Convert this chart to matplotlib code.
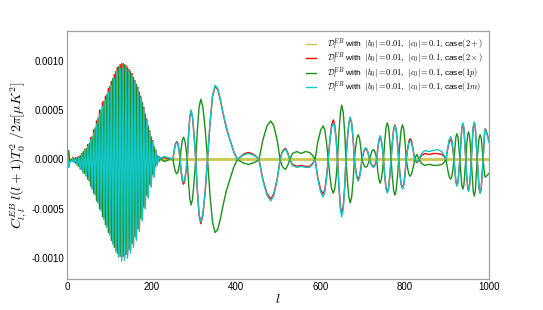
import numpy as np
import matplotlib
matplotlib.use("Agg")
import matplotlib.pyplot as plt

plt.rcParams['font.family'] = ['Liberation Sans', 'DejaVu Sans']
plt.rcParams['mathtext.fontset'] = 'cm'

# multipoles: first bump, dense acoustic part, slow tail (one row per lobe)
ell_head = [2, 4, 6, 9, 12]
ell_dense = np.arange(14, 214, 3.5)
ell_tail = [
    218, 222, 230, 238, 246,
    251, 254, 257, 260, 263, 265.5,
    268, 270.5, 273.5, 276, 279, 282,
    285, 288, 291, 294, 297.5, 301,
    305, 309, 313, 317, 322, 327.5,
    333, 339, 345, 351, 357, 363, 370, 378, 386, 395,
    404, 413, 421, 430, 438, 447,
    455, 464, 474, 483, 490, 498,
    505, 509, 514, 518, 523,
    528, 534, 545, 555, 565, 575, 582,
    588, 594, 601, 607, 611, 615,
    619, 623, 627, 631, 634.5, 638,
    641, 644.5, 648, 651, 654.5, 658,
    661, 664.5, 668, 671, 674.5, 678,
    681, 684, 687, 690, 693, 696,
    699, 702, 705, 708, 711, 714,
    717, 720, 723, 726, 729, 731.5,
    734, 736.5, 739.5, 742, 744.5, 747.5,
    750, 753, 756, 759, 762, 765,
    768, 771, 774, 777, 780, 783,
    786, 789, 792, 795, 798, 801,
    804, 807, 810, 813, 816.5, 820,
    824, 826.5, 829, 831.5,
    834, 840, 848, 858, 868, 878, 888, 894,
    898, 902, 905.5, 909, 912, 914.5,
    917, 919.5, 921.5, 924, 926.5, 928.5,
    931, 933.5, 935.5, 938, 940.5, 942.5,
    945, 947, 949.5, 951.5, 953.5, 956,
    958, 960.5, 962.5, 965, 967.5, 969.5,
    972, 974.5, 976.5, 979, 981.5, 983.5,
    986, 988, 989.5, 991, 993.5, 996, 1000]

# case(1m) - cyan
cyan_head = [0.00002, -0.00008, -0.00004, -0.00002, -0.00001]
cyan_dense = [
    0.00001, -0.00003, 0.00001, -0.00006, 0.00002, -0.0001, 0.00005, -0.00014, 0.00009, -0.00017,
    0.00013, -0.00022, 0.0002, -0.0003, 0.00027, -0.00036, 0.00036, -0.00044, 0.00046, -0.00052,
    0.00054, -0.00061, 0.0006, -0.00069, 0.00068, -0.00077, 0.00075, -0.00086, 0.00082, -0.00093,
    0.00089, -0.00099, 0.00092, -0.00103, 0.00093, -0.00102, 0.00092, -0.001, 0.00089, -0.00095,
    0.00085, -0.00089, 0.00079, -0.00082, 0.00072, -0.00073, 0.00063, -0.00062, 0.00052, -0.0005,
    0.0004, -0.00039, 0.00028, -0.00028, 0.00018, -0.00018, 0.0001, -0.00006]
cyan_tail = [
    0.00003, 0.00001, 0.00003, 0.00002, 0.00001,
    0.0, 0.00009, 0.00015, 0.00017, 0.00015, 0.00009,
    0.0, -0.000115, -0.0002, -0.00023, -0.0002, -0.000115,
    0.0, 0.00025, 0.000435, 0.0005, 0.000435, 0.00025,
    0.0, -0.000315, -0.000548, -0.00063, -0.000548, -0.000315,
    0.0, 0.00037, 0.00065, 0.00075, 0.00072, 0.00062, 0.00047, 0.00032, 0.0002, 0.00008,
    0.0, 0.00003, 0.00005, 0.00006, 0.00005, 0.00003,
    0.0, -0.00021, -0.000365, -0.00042, -0.000365, -0.00021,
    0.0, 0.00006, 0.00009, 0.0001, 0.00006,
    0.0, -0.00006, -0.00008, -0.00007, -0.00008, -0.00008, -0.00005,
    0.0, -0.00019, -0.00033, -0.00038, -0.00033, -0.00019,
    0.0, 0.000185, 0.000322, 0.00037, 0.000322, 0.000185,
    0.0, -0.00029, -0.000505, -0.00058, -0.000505, -0.00029,
    0.0, 0.000215, 0.000374, 0.00043, 0.000374, 0.000215,
    0.0, -0.00011, -0.00019, -0.00022, -0.00019, -0.00011,
    0.0, 0.00006, 0.000104, 0.00012, 0.000104, 0.00006,
    0.0, -0.00004, -0.00007, -0.00008, -0.00007, -0.00004,
    0.0, 0.00012, 0.000209, 0.00024, 0.000209, 0.00012,
    0.0, -0.00017, -0.000296, -0.00034, -0.000296, -0.00017,
    0.0, 0.00017, 0.000296, 0.00034, 0.000296, 0.00017,
    0.0, -0.00015, -0.000261, -0.0003, -0.000261, -0.00015,
    0.0, 0.000095, 0.000165, 0.00019, 0.000165, 0.000095,
    0.0, -0.00001, -0.00002, -0.00001,
    0.0, 0.00006, 0.00009, 0.00008, 0.00009, 0.0001, 0.00008, 0.00004,
    0.0, 0.000115, 0.0002, 0.00023, 0.0002, 0.000115,
    0.0, -0.000135, -0.000235, -0.00027, -0.000235, -0.000135,
    0.0, 0.000185, 0.000322, 0.00037, 0.000322, 0.000185,
    0.0, -0.00016, -0.000278, -0.00032, -0.000278, -0.00016,
    0.0, 0.00019, 0.00033, 0.00038, 0.00033, 0.00019,
    0.0, -0.00017, -0.000296, -0.00034, -0.000296, -0.00017,
    0.0, 0.00016, 0.00027, 0.00031, 0.00028, 0.00024, 0.00017]

# case(2x) - red
red_head = [0.00008, 0.00005, -0.00001, -0.00001, 0.0]
red_dense = [
    0.00002, -0.00003, 0.00002, -0.00005, 0.00003, -0.00009, 0.00006, -0.00013, 0.0001, -0.00016,
    0.00015, -0.00021, 0.00022, -0.00029, 0.0003, -0.00035, 0.00039, -0.00043, 0.0005, -0.0005,
    0.00058, -0.00059, 0.00064, -0.00067, 0.00072, -0.00075, 0.00079, -0.00084, 0.00086, -0.00091,
    0.00093, -0.00097, 0.00096, -0.001, 0.00097, -0.001, 0.00095, -0.00097, 0.00091, -0.00093,
    0.00087, -0.00087, 0.0008, -0.0008, 0.00073, -0.00071, 0.00064, -0.0006, 0.00053, -0.00049,
    0.00041, -0.00038, 0.00029, -0.00027, 0.00019, -0.00017, 0.0001, -0.00005]
red_tail = [
    0.00003, 0.00001, 0.00002, 0.00001, 0.00001,
    0.0, 0.00009, 0.00016, 0.00018, 0.00016, 0.00009,
    0.0, -0.000125, -0.000218, -0.00025, -0.000218, -0.000125,
    0.0, 0.000245, 0.000426, 0.00049, 0.000426, 0.000245,
    0.0, -0.000325, -0.000565, -0.00065, -0.000565, -0.000325,
    0.0, 0.00037, 0.00064, 0.00074, 0.00071, 0.00061, 0.00046, 0.00031, 0.0002, 0.00008,
    0.0, 0.000035, 0.00006, 0.00007, 0.00006, 0.000035,
    0.0, -0.0002, -0.000348, -0.0004, -0.000348, -0.0002,
    0.0, 0.00007, 0.0001, 0.00011, 0.00007,
    0.0, -0.00005, -0.00007, -0.00006, -0.00007, -0.00007, -0.00004,
    0.0, -0.000175, -0.000305, -0.00035, -0.000305, -0.000175,
    0.0, 0.0002, 0.000348, 0.0004, 0.000348, 0.0002,
    0.0, -0.000275, -0.000478, -0.00055, -0.000478, -0.000275,
    0.0, 0.00021, 0.000365, 0.00042, 0.000365, 0.00021,
    0.0, -0.0001, -0.000174, -0.0002, -0.000174, -0.0001,
    0.0, 0.000055, 0.000096, 0.00011, 0.000096, 0.000055,
    0.0, -0.000035, -0.00006, -0.00007, -0.00006, -0.000035,
    0.0, 0.000115, 0.0002, 0.00023, 0.0002, 0.000115,
    0.0, -0.000165, -0.000287, -0.00033, -0.000287, -0.000165,
    0.0, 0.000175, 0.000305, 0.00035, 0.000305, 0.000175,
    0.0, -0.000145, -0.000252, -0.00029, -0.000252, -0.000145,
    0.0, 0.000105, 0.000183, 0.00021, 0.000183, 0.000105,
    0.0, -0.00002, -0.00003, -0.00002,
    0.0, 0.00004, 0.00006, 0.00005, 0.00006, 0.00006, 0.00005, 0.00003,
    0.0, 0.0001, 0.000174, 0.0002, 0.000174, 0.0001,
    0.0, -0.00013, -0.000226, -0.00026, -0.000226, -0.00013,
    0.0, 0.00018, 0.000313, 0.00036, 0.000313, 0.00018,
    0.0, -0.00016, -0.000278, -0.00032, -0.000278, -0.00016,
    0.0, 0.000185, 0.000322, 0.00037, 0.000322, 0.000185,
    0.0, -0.00017, -0.000296, -0.00034, -0.000296, -0.00017,
    0.0, 0.00016, 0.00027, 0.00031, 0.00029, 0.00025, 0.00019]

# case(1p) - green
green_head = [0.00007, 0.00009, -0.00002, -0.00001, 0.0]
green_dense = [
    -0.00002, 0.00001, -0.00004, 0.00002, -0.00007, 0.00004, -0.0001, 0.00008, -0.00014, 0.00011,
    -0.0002, 0.00016, -0.00027, 0.00023, -0.00034, 0.00032, -0.00042, 0.00042, -0.0005, 0.0005,
    -0.00058, 0.00059, -0.00066, 0.00066, -0.00074, 0.00074, -0.00082, 0.00082, -0.00089, 0.00089,
    -0.00095, 0.00094, -0.00098, 0.00097, -0.00098, 0.00096, -0.00096, 0.00093, -0.00091, 0.00089,
    -0.00085, 0.00083, -0.00078, 0.00076, -0.0007, 0.00068, -0.0006, 0.00058, -0.00048, 0.00046,
    -0.00036, 0.00034, -0.00025, 0.00023, -0.00015, 0.00013, -0.00007, 0.00004]
green_tail = [
    -0.00002, 0.00001, -0.00002, -0.00001, 0.00001,
    0.0, -0.00007, -0.000125, -0.000145, -0.000125, -0.00007,
    0.0, 0.000112, 0.000196, 0.000225, 0.000196, 0.000112,
    0.0, -0.00023, -0.0004, -0.00046, -0.0004, -0.00023,
    0.0, 0.000305, 0.00053, 0.00061, 0.00053, 0.000305,
    0.0, -0.00037, -0.00064, -0.00074, -0.00071, -0.00061, -0.00046, -0.00031, -0.0002, -0.00008,
    0.0, -0.000025, -0.00004, -0.00005, -0.00004, -0.000025,
    0.0, 0.000195, 0.00034, 0.00039, 0.00034, 0.000195,
    0.0, -0.00006, -0.00009, -0.0001, -0.00006,
    0.0, 0.00006, 0.00008, 0.00006, 0.00008, 0.00007, 0.00004,
    0.0, 0.00017, 0.000296, 0.00034, 0.000296, 0.00017,
    0.0, -0.00017, -0.000296, -0.00034, -0.000296, -0.00017,
    0.0, 0.000275, 0.000478, 0.00055, 0.000478, 0.000275,
    0.0, -0.00022, -0.000383, -0.00044, -0.000383, -0.00022,
    0.0, 0.000125, 0.000218, 0.00025, 0.000218, 0.000125,
    0.0, -0.00004, -0.00007, -0.00008, -0.00007, -0.00004,
    0.0, 0.00005, 0.000087, 0.0001, 0.000087, 0.00005,
    0.0, -0.00012, -0.000209, -0.00024, -0.000209, -0.00012,
    0.0, 0.000185, 0.000322, 0.00037, 0.000322, 0.000185,
    0.0, -0.00018, -0.000313, -0.00036, -0.000313, -0.00018,
    0.0, 0.000175, 0.000305, 0.00035, 0.000305, 0.000175,
    0.0, -0.000085, -0.000148, -0.00017, -0.000148, -0.000085,
    0.0, 0.00003, 0.00005, 0.00003,
    0.0, -0.00004, -0.00006, -0.00005, -0.00006, -0.00006, -0.00005, -0.00003,
    0.0, -0.0001, -0.000174, -0.0002, -0.000174, -0.0001,
    0.0, 0.00013, 0.000226, 0.00026, 0.000226, 0.00013,
    0.0, -0.00015, -0.000261, -0.0003, -0.000261, -0.00015,
    0.0, 0.00014, 0.000244, 0.00028, 0.000244, 0.00014,
    0.0, -0.000185, -0.000322, -0.00037, -0.000322, -0.000185,
    0.0, 0.000125, 0.000218, 0.00025, 0.000218, 0.000125,
    0.0, -0.00009, -0.00016, -0.00018, -0.00017, -0.00016, -0.00014]

# case(2+) - stays at zero
ell_flat = [2, 1000]
yellow_flat = [0.0, 0.0]

ell = np.concatenate([ell_head, ell_dense, ell_tail])
cyan = np.concatenate([cyan_head, cyan_dense, cyan_tail])
red = np.concatenate([red_head, red_dense, red_tail])
green = np.concatenate([green_head, green_dense, green_tail])

lab = r'$\mathcal{D}_l^{EB}$ with  $|b_0|=0.01$,  $|c_0|=0.1$, case$(%s)$'

fig = plt.figure(figsize=(5.43, 3.10), dpi=100)
ax = fig.add_axes([67/543, 31/310, 422/543, 248/310])

ax.plot(ell_flat, yellow_flat, color='#c8c84c', lw=2.0, label=lab % '2+')
ax.plot(ell, red, color='red', lw=1.0, label=lab % r'2\times')
ax.plot(ell, green, color='#1a911a', lw=1.0, label=lab % '1p')
ax.plot(ell, cyan, color='#12c6c8', lw=1.0, label=lab % '1m')

ax.set_xlim(0, 1000)
ax.set_ylim(-0.00121, 0.0013)
ax.set_yticks([-0.001, -0.0005, 0.0, 0.0005, 0.001])
ax.yaxis.set_major_formatter(matplotlib.ticker.FormatStrFormatter('%.4f'))
ax.tick_params(length=0, labelsize=7, pad=2)
for s in ax.spines.values():
    s.set_color('#a0a0a0')
    s.set_linewidth(0.9)

ax.set_xlabel(r'$l$', fontsize=10, labelpad=0)
ax.set_ylabel(r'$C_{l,l}^{EB}\,l(l+1)T_0^2\ /2\pi[\mu K^2]$', fontsize=10, labelpad=2)

leg = ax.legend(loc='upper right', fontsize=6, frameon=False, handlelength=1.1,
                handletextpad=1.4, borderaxespad=0.3, labelspacing=-0.1)
leg.legend_handles[0].set_linewidth(1.0)

fig.savefig('out.png', dpi=100)
